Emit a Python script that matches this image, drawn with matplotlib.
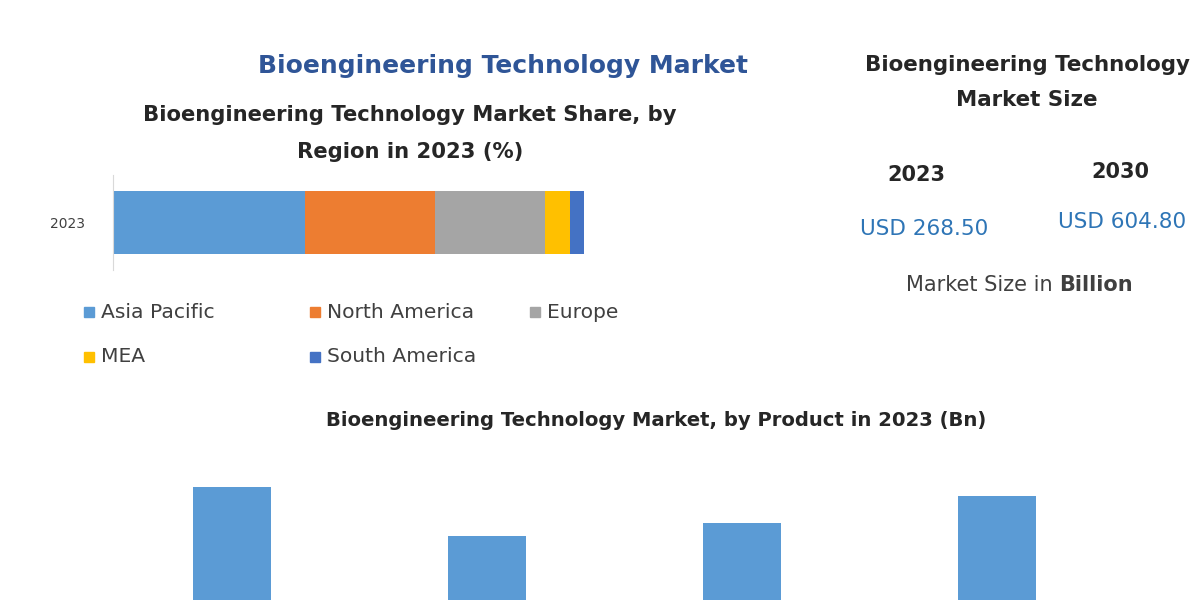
import matplotlib
matplotlib.use("Agg")
import matplotlib.pyplot as plt
from matplotlib.patches import Rectangle

plt.rcParams["font.family"] = ["DejaVu Sans"]

# regional share 2023 (%)
regions = ["Asia Pacific", "North America", "Europe", "MEA", "South America"]
shares = [40.7, 27.7, 23.3, 5.3, 3.0]
region_colors = ["#5b9bd5", "#ed7d31", "#a5a5a5", "#ffc000", "#4472c4"]

# market size
size_years = ["2023", "2030"]
size_values = ["USD 268.50", "USD 604.80"]

# product bars 2023 (Bn) - bottom part is cut off in the source
products = ["P1", "P2", "P3", "P4"]
product_values = [90.4, 72.9, 77.5, 87.1]

W, H = 1200, 600
fig = plt.figure(figsize=(12, 6), dpi=100)
fig.patch.set_facecolor("white")


def fx(px):
    return px / W


def fy(py):
    return 1 - py / H


dark = "#262626"

fig.text(fx(503), fy(66), "Bioengineering Technology Market", ha="center", va="center",
         fontsize=18, fontweight="bold", color="#2f5597")
fig.text(fx(410), fy(115), "Bioengineering Technology Market Share, by",
         ha="center", va="center", fontsize=15.2, fontweight="bold", color=dark)
fig.text(fx(410), fy(152), "Region in 2023 (%)",
         ha="center", va="center", fontsize=15.2, fontweight="bold", color=dark)

# stacked bar
ax = fig.add_axes([fx(113), fy(270), fx(471), 95 / H])
left = 0
for name, val, col in zip(regions, shares, region_colors):
    ax.barh(["2023"], [val], left=left, height=0.67, color=col, label=name)
    left += val
ax.set_xlim(0, 100)
ax.set_ylim(-0.5, 0.5)
for s in ["top", "right", "bottom"]:
    ax.spines[s].set_visible(False)
ax.spines["left"].set_color("#d9d9d9")
ax.set_xticks([])
ax.tick_params(axis="y", length=0, labelsize=10, labelcolor="#404040", pad=20)

# legend laid out like the source (fixed columns)
leg_pos = [(84, 312), (310, 312), (530, 312), (84, 357), (310, 357)]
for (px, py), name, col in zip(leg_pos, regions, region_colors):
    fig.patches.append(Rectangle((fx(px), fy(py + 5)), fx(10), 10 / H, color=col,
                                 transform=fig.transFigure, figure=fig))
    fig.text(fx(px + 17), fy(py), name, ha="left", va="center", fontsize=14.6, color="#404040")

# right panel
fig.text(fx(1027), fy(65), "Bioengineering Technology", ha="center", va="center",
         fontsize=15.4, fontweight="bold", color=dark)
fig.text(fx(1027), fy(100), "Market Size", ha="center", va="center",
         fontsize=15.4, fontweight="bold", color=dark)
for x, y, yr, val, vx, vy in zip([916, 1120], [175, 172], size_years, size_values,
                                 [924, 1122], [229, 222]):
    fig.text(fx(x), fy(y), yr, ha="center", va="center", fontsize=15, fontweight="bold", color=dark)
    fig.text(fx(vx), fy(vy), val, ha="center", va="center", fontsize=15.5, color="#2e75b6")
t = fig.text(fx(906), fy(285), "Market Size in ", ha="left", va="center", fontsize=15, color="#404040")
fig.canvas.draw()
bb = t.get_window_extent()
fig.text(bb.x1 / W, fy(285), "Billion", ha="left", va="center", fontsize=15,
         fontweight="bold", color="#404040")

fig.text(fx(656), fy(420), "Bioengineering Technology Market, by Product in 2023 (Bn)",
         ha="center", va="center", fontsize=14.1, fontweight="bold", color=dark)

# product bars (extend below the image edge)
ax2 = fig.add_axes([fx(104.5), fy(740), fx(1020), 280 / H])
ax2.bar(range(len(products)), product_values, width=0.306, color="#5b9bd5")
ax2.set_xlim(-0.5, 3.5)
ax2.set_ylim(0, 100)
ax2.axis("off")

fig.savefig("out.png", dpi=100)
